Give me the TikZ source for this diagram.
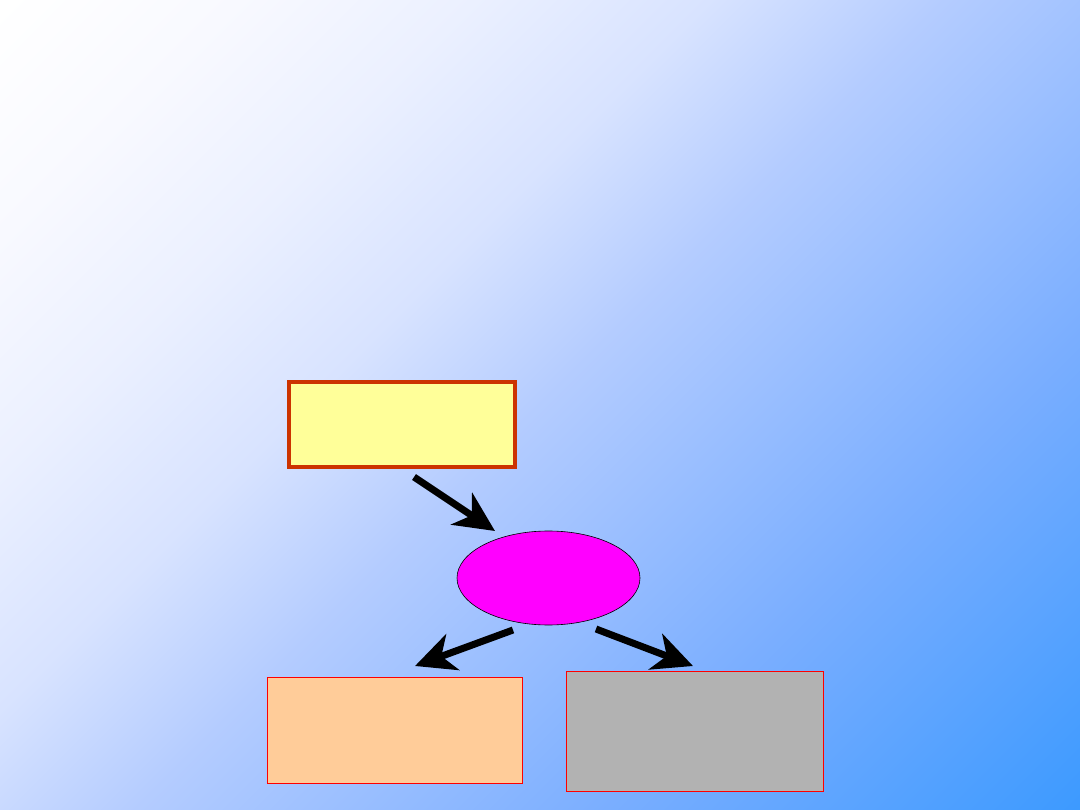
\documentclass[tikz,border=0pt]{standalone}
\usetikzlibrary{arrows.meta,shapes.geometric,shadings}
\definecolor{bgA}{HTML}{F8F9FF}
\definecolor{bgB}{HTML}{EBF0FF}
\definecolor{bgC}{HTML}{D8E3FF}
\definecolor{bgmid}{HTML}{B4CCFF}
\definecolor{bgD}{HTML}{7AAEFF}
\definecolor{bgblue}{HTML}{3D9AFF}
\definecolor{ybox}{HTML}{FFFF99}
\definecolor{yborder}{HTML}{CC3300}
\definecolor{peach}{HTML}{FFCC99}
\definecolor{graybox}{HTML}{B2B2B2}
\definecolor{magentafill}{HTML}{FF00FF}
\pgfdeclarehorizontalshading{bgdiag}{100bp}{color(0bp)=(white); color(14.64bp)=(white); color(23.48bp)=(bgA); color(32.32bp)=(bgB); color(41.16bp)=(bgC); color(50bp)=(bgmid); color(67.68bp)=(bgD); color(85.36bp)=(bgblue); color(100bp)=(bgblue)}
\tikzset{
  boxbase/.style={rectangle, inner sep=0pt, outer sep=0pt},
  fatarrow/.style={line width=7pt, black, -{Stealth[length=40pt,width=38pt,inset=12pt]}, shorten >=0pt}
}
\begin{document}
\begin{tikzpicture}[x=1pt,y=-1pt]
\useasboundingbox (0,0) rectangle (1080,810);
\shade[shading=bgdiag, shading angle=-45] (0,0) rectangle (1080,810);
\node[boxbase, fill=ybox, draw=yborder, line width=4pt, minimum width=226pt, minimum height=85pt] (top) at (402,424.5) {};
\node[ellipse, fill=magentafill, draw=black, line width=0.6pt, inner sep=0pt, minimum width=183pt, minimum height=94pt] (mid) at (548.5,578) {};
\node[boxbase, fill=peach, draw=red, line width=1.8pt, minimum width=255pt, minimum height=106pt] (left) at (395,730.5) {};
\node[boxbase, fill=graybox, draw=red, line width=1pt, minimum width=257pt, minimum height=120pt] (right) at (694.5,731) {};
\coordinate (a1s) at (414,477);
\coordinate (a1e) at (495,531);
\coordinate (a2s) at (513,630);
\coordinate (a2e) at (415,666);
\coordinate (a3s) at (596,629);
\coordinate (a3e) at (693,666);
\draw[fatarrow] (a1s) -- (a1e);
\draw[fatarrow] (a2s) -- (a2e);
\draw[fatarrow] (a3s) -- (a3e);
\end{tikzpicture}
\end{document}
